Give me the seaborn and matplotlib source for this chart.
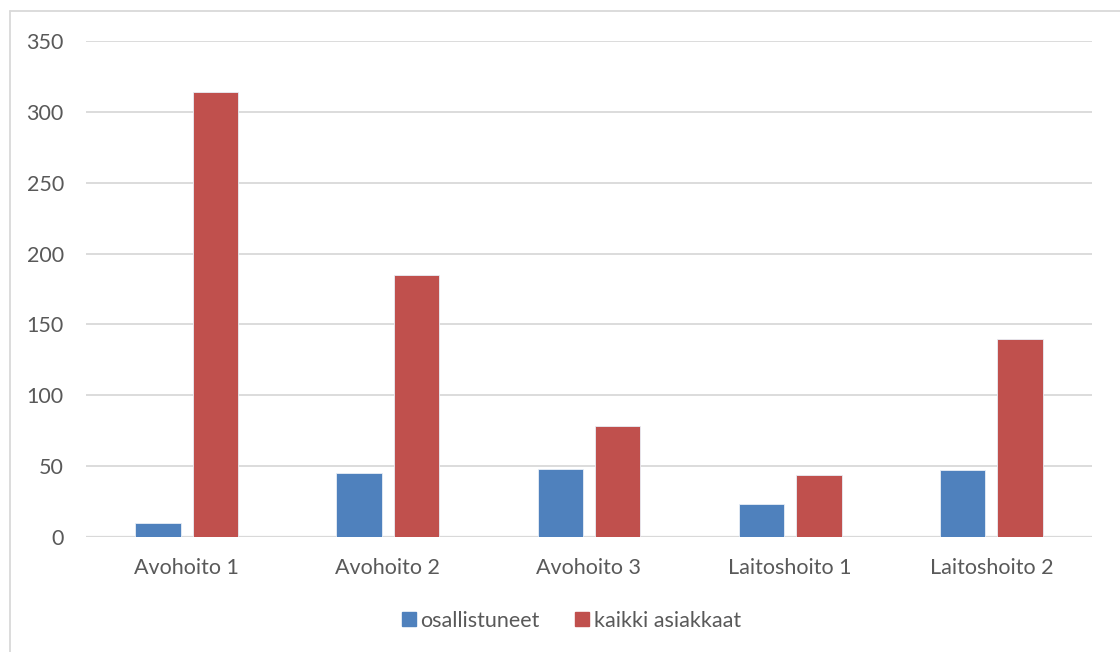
import matplotlib
matplotlib.use("Agg")
import matplotlib.pyplot as plt
import seaborn as sns
import pandas as pd
from matplotlib.lines import Line2D

categories = ["Avohoito 1", "Avohoito 2", "Avohoito 3", "Laitoshoito 1", "Laitoshoito 2"]
series_names = ["osallistuneet", "kaikki asiakkaat"]
osallistuneet = [10, 45, 48, 23, 47]
kaikki_asiakkaat = [314, 185, 78, 44, 140]
y_ticks = [0, 50, 100, 150, 200, 250, 300, 350]

colors = ["#4F81BD", "#C0504D"]
text_color = "#595959"
grid_color = "#D9D9D9"

df = pd.DataFrame({
    "kategoria": categories * 2,
    "sarja": [series_names[0]] * len(categories) + [series_names[1]] * len(categories),
    "arvo": osallistuneet + kaikki_asiakkaat,
})

sns.set_theme(style="white")
plt.rcParams["font.family"] = ["Lato", "DejaVu Sans"]

fig = plt.figure(figsize=(11.2, 6.52), dpi=100)
ax = fig.add_axes([86 / 1120, 1 - 537 / 652, (1092 - 86) / 1120, (537 - 41) / 652])

sns.barplot(
    data=df, x="kategoria", y="arvo", hue="sarja",
    palette=colors, saturation=1, width=0.57, gap=0.21, ax=ax,
    edgecolor="#E8EEF6", linewidth=0.6, legend=False, errorbar=None,
)

ax.set_ylim(0, 350)
ax.set_xlim(-0.5, len(categories) - 0.5)
ax.set_yticks(y_ticks)
ax.set_yticklabels([str(v) for v in y_ticks])
ax.yaxis.grid(True, color=grid_color, linewidth=1.3)
ax.set_axisbelow(True)
ax.set_xlabel("")
ax.set_ylabel("")
for s in ax.spines.values():
    s.set_visible(False)
ax.axhline(0, color=grid_color, linewidth=1.6, zorder=0.5)
ax.tick_params(axis="both", length=0, colors=text_color, labelsize=15.5)
ax.tick_params(axis="y", pad=16)
ax.tick_params(axis="x", pad=15)

handles = [Line2D([], [], marker="s", linestyle="none", markersize=10.5,
                  markerfacecolor=c, markeredgecolor=c) for c in colors]
fig.legend(handles, series_names, loc="center", bbox_to_anchor=(570 / 1120, 1 - 621 / 652),
           ncol=2, frameon=False, fontsize=15.5, labelcolor=text_color,
           handletextpad=0.1, columnspacing=1.5, handlelength=0.9)

# outer chart frame
frame_color = "#D9D9D9"
fig.add_artist(Line2D([10 / 1120, 10 / 1120], [0, 1 - 11 / 652], transform=fig.transFigure,
                      color=frame_color, linewidth=1.3))
fig.add_artist(Line2D([10 / 1120, 1], [1 - 11 / 652, 1 - 11 / 652], transform=fig.transFigure,
                      color=frame_color, linewidth=1.3))

fig.savefig("out.png", dpi=100)
